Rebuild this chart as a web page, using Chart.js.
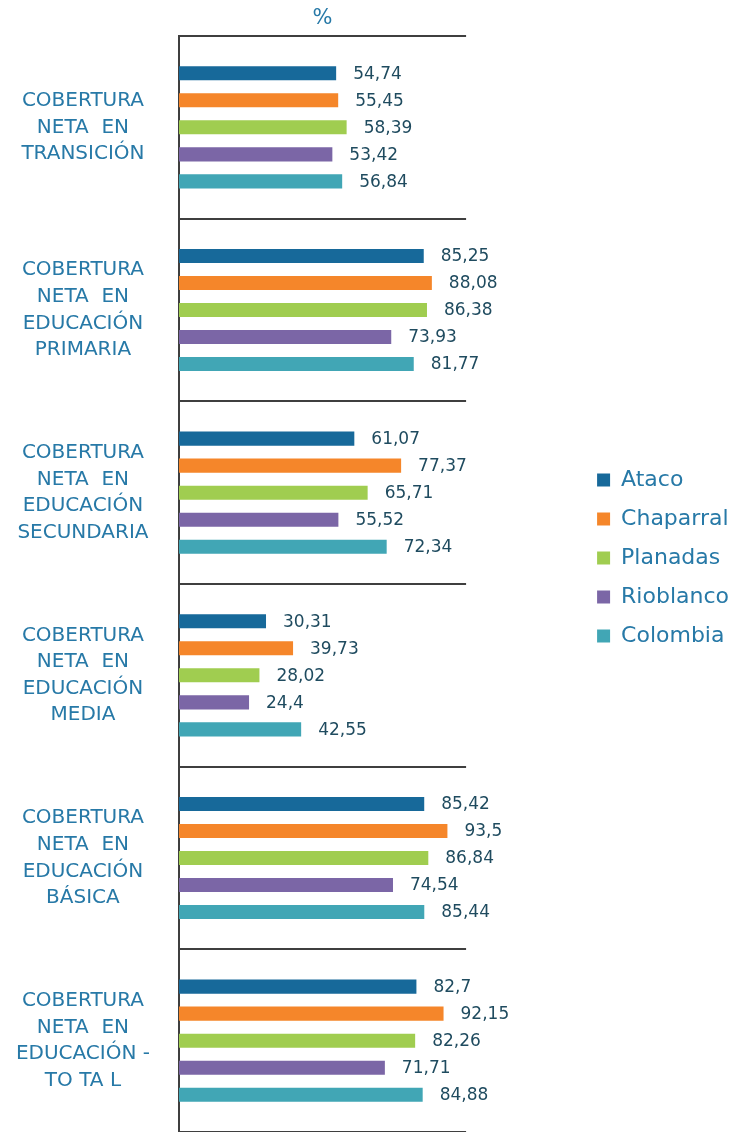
<!DOCTYPE html>
<html>
<head>
<meta charset="utf-8">
<script src="https://cdn.jsdelivr.net/npm/chart.js@4/dist/chart.umd.min.js"></script>
<style>
    html, body { margin: 0; padding: 0; background: #fff; }
    #wrap { width: 737px; height: 1132px; position: relative; }
</style>
</head>
<body>
<div id="wrap"><canvas id="coberturaChart"></canvas></div>
<script>
const categories = [
    ['COBERTURA', 'NETA  EN', 'TRANSICIÓN'],
    ['COBERTURA', 'NETA  EN', 'EDUCACIÓN', 'PRIMARIA'],
    ['COBERTURA', 'NETA  EN', 'EDUCACIÓN', 'SECUNDARIA'],
    ['COBERTURA', 'NETA  EN', 'EDUCACIÓN', 'MEDIA'],
    ['COBERTURA', 'NETA  EN', 'EDUCACIÓN', 'BÁSICA'],
    ['COBERTURA', 'NETA  EN', 'EDUCACIÓN -', 'TO TA L']
];
const ataco     = [54.74, 85.25, 61.07, 30.31, 85.42, 82.7];
const chaparral = [55.45, 88.08, 77.37, 39.73, 93.5, 92.15];
const planadas  = [58.39, 86.38, 65.71, 28.02, 86.84, 82.26];
const rioblanco = [53.42, 73.93, 55.52, 24.4, 74.54, 71.71];
const colombia  = [56.84, 81.77, 72.34, 42.55, 85.44, 84.88];

const FONT = '"DejaVu Sans", sans-serif';

// value labels to the right of each bar, decimal comma
const valueLabels = {
    id: 'valueLabels',
    afterDatasetsDraw(chart) {
        const ctx = chart.ctx;
        ctx.save();
        ctx.font = '17px ' + FONT;
        ctx.fillStyle = '#1f4b5f';
        ctx.textBaseline = 'middle';
        ctx.textAlign = 'left';
        chart.data.datasets.forEach((ds, i) => {
            chart.getDatasetMeta(i).data.forEach((bar, j) => {
                ctx.fillText(String(ds.data[j]).replace('.', ','), bar.x + 17, bar.y + 1);
            });
        });
        ctx.restore();
    }
};

// nudge the legend up a little (it is centred on the whole canvas by default)
const legendShift = {
    id: 'legendShift',
    afterLayout(chart) {
        const lg = chart.legend;
        if (!lg) return;
        lg.top -= 8;
        lg.bottom -= 8;
        lg.left += 2;
        lg.right += 2;
        (lg.legendHitBoxes || []).forEach(h => { h.top -= 8; h.left += 2; });
    }
};

const ctx = document.getElementById('coberturaChart').getContext('2d');
new Chart(ctx, {
    type: 'bar',
    data: {
        labels: categories,
        datasets: [
            { label: 'Ataco', data: ataco, backgroundColor: '#17699a' },
            { label: 'Chaparral', data: chaparral, backgroundColor: '#f5862a' },
            { label: 'Planadas', data: planadas, backgroundColor: '#a0cd50' },
            { label: 'Rioblanco', data: rioblanco, backgroundColor: '#7b66a6' },
            { label: 'Colombia', data: colombia, backgroundColor: '#41a6b5' }
        ]
    },
    options: {
        indexAxis: 'y',
        responsive: true,
        maintainAspectRatio: false,
        animation: false,
        categoryPercentage: 0.74,
        barPercentage: 0.52,
        layout: { padding: 0 },
        plugins: {
            tooltip: { enabled: false },
            legend: {
                position: 'right',
                maxWidth: 400,
                labels: {
                    font: { family: FONT, size: 22 },
                    color: '#2779a7',
                    boxWidth: 13,
                    boxHeight: 13,
                    padding: 17
                }
            }
        },
        scales: {
            x: {
                position: 'top',
                min: 0,
                max: 100,
                grid: { display: false },
                border: { display: false },
                ticks: { display: false },
                title: {
                    display: true,
                    text: '%',
                    color: '#2779a7',
                    font: { family: FONT, size: 21 },
                    padding: { top: 6, bottom: 0 }
                },
                afterFit: s => {
                    s.height = 36;
                    s.paddingLeft = 0;
                    s.paddingRight = 0;
                }
            },
            y: {
                grid: { color: '#3f3f3f', lineWidth: 2, drawTicks: false, offset: true },
                border: { color: '#3f3f3f', width: 2 },
                ticks: {
                    crossAlign: 'center',
                    padding: 29,
                    color: '#2779a7',
                    font: { family: FONT, size: 20, lineHeight: 1.33 }
                },
                afterFit: s => {
                    s.width = 179;
                    s.paddingTop = 0;
                    s.paddingBottom = 0;
                }
            },
            gap: {
                type: 'category',
                position: 'right',
                grid: { display: false },
                border: { display: false },
                ticks: { display: false },
                afterFit: s => {
                    s.width = 112;
                    s.paddingTop = 0;
                    s.paddingBottom = 0;
                }
            }
        }
    },
    plugins: [valueLabels, legendShift]
});
</script>
</body>
</html>
